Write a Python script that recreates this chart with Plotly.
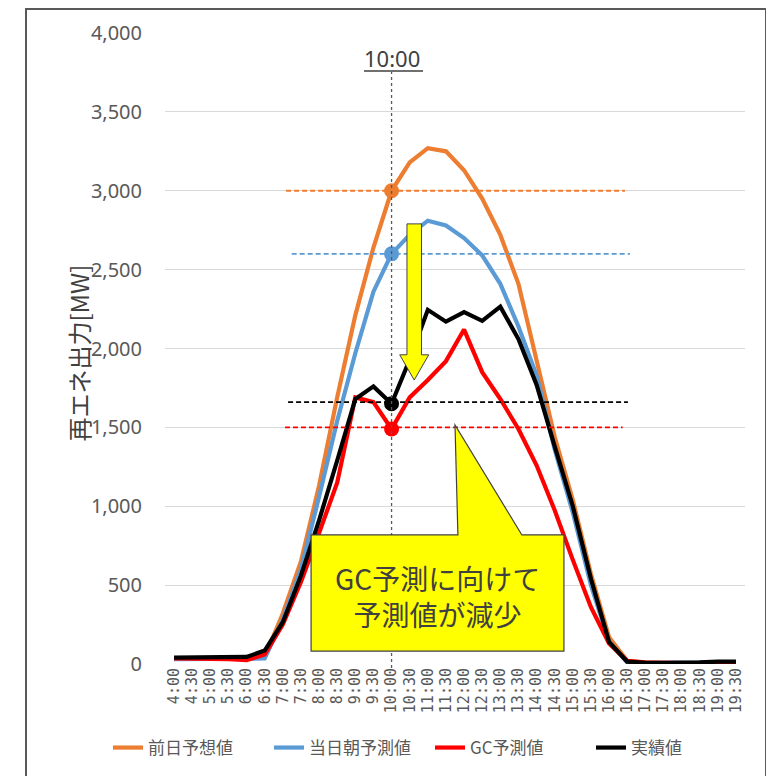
import plotly.graph_objects as go

# ---- data ----
times = ["4:00","4:30","5:00","5:30","6:00","6:30","7:00","7:30","8:00","8:30",
         "9:00","9:30","10:00","10:30","11:00","11:30","12:00","12:30","13:00","13:30",
         "14:00","14:30","15:00","15:30","16:00","16:30","17:00","17:30","18:00","18:30",
         "19:00","19:30"]
day_ahead = [35,35,40,40,40,45,320,650,1130,1690,2210,2640,3000,3180,3270,3250,3130,2950,
             2720,2410,1930,1440,1040,570,170,20,8,5,5,5,10,10]
morning = [30,30,35,35,35,35,280,600,1060,1540,1970,2360,2600,2720,2810,2780,2700,2590,
           2410,2140,1830,1360,960,500,140,10,5,5,5,5,10,10]
gc = [35,35,35,30,25,60,250,520,830,1150,1690,1660,1490,1690,1800,1920,2120,1850,
      1680,1490,1260,975,660,360,130,20,10,5,5,5,10,10]
actual = [40,40,45,45,45,85,265,560,910,1290,1680,1760,1650,1930,2245,2170,2230,2175,
          2265,2060,1770,1380,1000,540,140,15,8,8,8,10,15,15]
series_names = ["前日予想値", "当日朝予測値", "GC予測値", "実績値"]
series_colors = ["#ED7D31", "#5B9BD5", "#FF0000", "#000000"]
level_values = [3000, 2600, 1500, 1660]   # dashed levels at 10:00 (orange, blue, red, black)
focus_time = "10:00"
yticks = [0, 500, 1000, 1500, 2000, 2500, 3000, 3500, 4000]
callout_text = "GC予測に向けて<br>予測値が減少"

# ---- figure geometry (pixels) ----
OFF = 8                      # page offset of the figure inside the window
W, H = 774, 776
L, T = 165 - OFF, 33 - OFF
PW, PH = 580, 631
R = W - L - PW
B = H - T - PH

def px_x(px):   # screen pixel -> paper x
    return (px - OFF - L) / PW

def px_y(py):   # screen pixel -> paper y
    return (T + PH - (py - OFF)) / PH

fig = go.Figure()
all_series = [day_ahead, morning, gc, actual]
fi = times.index(focus_time)
for name, vals, col in zip(series_names, all_series, series_colors):
    fig.add_trace(go.Scatter(x=times, y=vals, mode="lines", name=name,
                             line=dict(color=col, width=4.2), cliponaxis=False))
for vals, col in zip(all_series, series_colors):
    fig.add_trace(go.Scatter(x=[times[fi]], y=[vals[fi]], mode="markers", showlegend=False,
                             marker=dict(color=col, size=15), cliponaxis=False))

shapes = []
# dashed horizontal levels
level_extents = [(6.18, 24.88), (6.49, 25.15), (6.12, 24.75), (6.29, 25.04)]
for lv, col, (a, b) in zip(level_values, series_colors[:4], level_extents):
    shapes.append(dict(type="line", xref="x", yref="y", x0=a, x1=b, y0=lv, y1=lv,
                       line=dict(color=col, width=1.8, dash="5px,3px"), layer="above"))
# vertical dotted line at focus time
shapes.append(dict(type="line", xref="x", yref="paper", x0=fi, x1=fi,
                   y0=px_y(668), y1=px_y(72),
                   line=dict(color="#595959", width=1.3, dash="3px,3px"), layer="above"))
# yellow arrow
ax0, ax1, hx0, hx1, tipx = 12.85, 13.65, 12.45, 14.05, 13.25
ay_top, ay_neck, ay_tip = 2790, 1960, 1800
arrow_path = (f"M {ax0},{ay_top} L {ax1},{ay_top} L {ax1},{ay_neck} L {hx1},{ay_neck} "
              f"L {tipx},{ay_tip} L {hx0},{ay_neck} L {ax0},{ay_neck} Z")
shapes.append(dict(type="path", xref="x", yref="y", path=arrow_path,
                   fillcolor="#FFFF00", line=dict(color="#404040", width=1), layer="above"))
# callout box
bx0, bx1, by0, by1 = 7.56, 21.51, 82, 818
p_l, p_r, p_tx, p_ty = 15.66, 19.19, 15.5, 1515
callout_path = (f"M {bx0},{by0} L {bx0},{by1} L {p_l},{by1} L {p_tx},{p_ty} L {p_r},{by1} "
                f"L {bx1},{by1} L {bx1},{by0} Z")
shapes.append(dict(type="path", xref="x", yref="y", path=callout_path,
                   fillcolor="#FFFF00", line=dict(color="#404040", width=1.2), layer="above"))
# underline of the 10:00 label
shapes.append(dict(type="line", xref="paper", yref="paper", x0=px_x(364), x1=px_x(423),
                   y0=px_y(71), y1=px_y(71), line=dict(color="#404040", width=1.3)))
# outer frame
shapes.append(dict(type="rect", xref="paper", yref="paper", x0=px_x(26), x1=px_x(766),
                   y0=px_y(790), y1=px_y(9), line=dict(color="#595959", width=2),
                   fillcolor="rgba(0,0,0,0)"))

annotations = [
    dict(text=callout_text, xref="x", yref="y", x=(bx0 + bx1) / 2, y=430,
         showarrow=False, font=dict(size=28, color="#404040", family="Noto Sans CJK JP")),
    dict(text=focus_time, xref="x", yref="paper", x=fi, y=px_y(58), showarrow=False,
         font=dict(size=22, color="#404040", family="Noto Sans"), yanchor="middle"),
    dict(text="再エネ出力[MW]", xref="paper", yref="paper", x=px_x(58), y=px_y(353),
         textangle=-90, showarrow=False,
         font=dict(size=24, color="#404040", family="Noto Sans CJK JP")),
]

fig.update_layout(
    width=W, height=H, margin=dict(l=L, r=R, t=T, b=B, autoexpand=False),
    paper_bgcolor="white", plot_bgcolor="white",
    shapes=shapes, annotations=annotations,
    xaxis=dict(type="category", range=[-0.5, len(times) - 0.5], showgrid=False,
               showline=False, zeroline=False, tickangle=-90, ticks="",
               tickfont=dict(family="DejaVu Sans Mono", size=15, color="#595959")),
    yaxis=dict(range=[0, 4000], tickvals=yticks, tickformat=",d", showgrid=True,
               gridcolor="#D9D9D9", gridwidth=1.2, zeroline=False, showline=False,
               ticks="", ticklabelstandoff=22,
               tickfont=dict(family="Noto Sans", size=20, color="#595959")),
    legend=dict(orientation="h", x=px_x(108), y=px_y(748), xanchor="left", yanchor="middle",
                entrywidth=116, entrywidthmode="pixels",
                font=dict(family="Noto Sans CJK JP", size=17, color="#595959"),
                bgcolor="rgba(0,0,0,0)"),
    showlegend=True,
)

fig.write_html("out.html")
